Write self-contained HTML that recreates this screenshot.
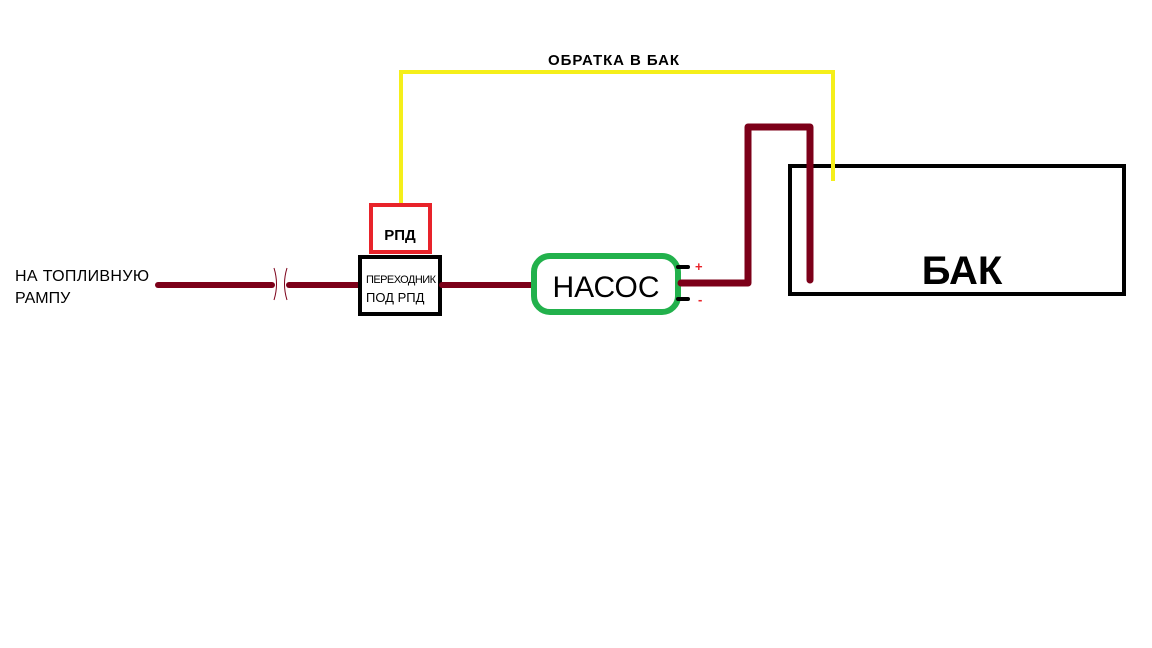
<!DOCTYPE html>
<html><head><meta charset="utf-8"><style>
html,body{margin:0;padding:0;background:#fff;width:1152px;height:648px;overflow:hidden}
svg{display:block}
text{font-family:"Liberation Sans","DejaVu Sans",sans-serif}
</style></head><body>
<svg width="1152" height="648" viewBox="0 0 1152 648">
<polyline points="401,203 401,72 833,72 833,181" fill="none" stroke="#f5ef1a" stroke-width="4"/>
<text x="548" y="65" font-size="15" font-weight="bold" fill="#000" textLength="131">ОБРАТКА В БАК</text>
<line x1="158" y1="285" x2="272" y2="285" stroke="#7c0019" stroke-width="6" stroke-linecap="round"/>
<line x1="289" y1="285" x2="360" y2="285" stroke="#7c0019" stroke-width="6" stroke-linecap="round"/>
<path d="M274,268 Q279,284 274,300" fill="none" stroke="#7c0019" stroke-width="1"/>
<path d="M287,268 Q282,284 287,300" fill="none" stroke="#7c0019" stroke-width="1"/>
<text x="15" y="281" font-size="16" fill="#000" textLength="134">НА ТОПЛИВНУЮ</text>
<text x="15" y="303" font-size="16" fill="#000">РАМПУ</text>
<rect x="371" y="205" width="59" height="47" fill="#fff" stroke="#e8232a" stroke-width="4"/>
<text x="400" y="240" font-size="15" font-weight="bold" text-anchor="middle">РПД</text>
<rect x="360" y="257" width="80" height="57" fill="#fff" stroke="#000" stroke-width="4"/>
<text x="366" y="283" font-size="11" textLength="70">ПЕРЕХОДНИК</text>
<text x="366" y="302" font-size="13">ПОД РПД</text>
<line x1="442" y1="285" x2="531" y2="285" stroke="#7c0019" stroke-width="6" stroke-linecap="round"/>
<rect x="534" y="256" width="144" height="56" rx="16" fill="#fff" stroke="#22b14c" stroke-width="6"/>
<text x="606" y="297" font-size="30" text-anchor="middle">НАСОС</text>
<line x1="678" y1="267" x2="688" y2="267" stroke="#000" stroke-width="4" stroke-linecap="round"/>
<line x1="678" y1="299" x2="688" y2="299" stroke="#000" stroke-width="4" stroke-linecap="round"/>
<text x="695" y="271" font-size="13" fill="#e8232a" font-weight="bold">+</text>
<text x="698" y="304" font-size="13" fill="#e8232a" font-weight="bold">-</text>
<rect x="790" y="166" width="334" height="128" fill="#fff" stroke="#000" stroke-width="4"/>
<polyline points="681,283 748,283 748,127 810,127 810,280" fill="none" stroke="#7c0019" stroke-width="7" stroke-linejoin="round" stroke-linecap="round"/>
<line x1="833" y1="150" x2="833" y2="181" stroke="#f5ef1a" stroke-width="4"/>
<text x="962" y="284" font-size="40" font-weight="bold" text-anchor="middle">БАК</text>
</svg>
</body></html>
